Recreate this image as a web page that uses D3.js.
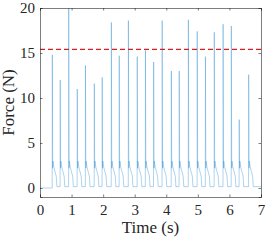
<!DOCTYPE html>
<html>
<head>
<meta charset="utf-8">
<script src="https://cdn.jsdelivr.net/npm/d3@7"></script>
<style>
  body { margin: 0; background: #fff; }
  svg { display: block; }
</style>
</head>
<body>
<script>
const width = 269
const height = 241
const margin = { top: 8, right: 8, bottom: 44, left: 40 }

// peak onset times (s) and peak force (N)
const peakTimes = [0.39, 0.64, 0.91, 1.18, 1.44, 1.72, 1.97, 2.26, 2.51, 2.80, 3.08, 3.34,
    3.60, 3.87, 4.16, 4.41, 4.70, 4.98, 5.24, 5.52, 5.80, 6.06, 6.31, 6.61]
const peakForces = [14.8, 12.0, 20.0, 11.0, 13.6, 11.6, 12.3, 18.4, 14.7, 18.6, 14.6, 15.3,
    14.0, 18.6, 13.0, 13.0, 18.7, 17.4, 14.6, 17.3, 18.2, 18.0, 7.6, 12.6]

// shape of one pulse after the peak: time offset (s) and force (N)
const tailOffsets = [0.012, 0.02, 0.05, 0.125, 0.145]
const tailForces = [2.2, 3.0, 2.3, 1.3, 0.15]
const baseStart = 0.0
const baseRest = 0.15

const threshold = 15.4
const xTicks = [0, 1, 2, 3, 4, 5, 6, 7]
const yTicks = [0, 5, 10, 15, 20]

// build the trace
const trace = [[0, baseStart]]
peakTimes.forEach((t, i) => {
    trace.push([t - 0.004, i === 0 ? baseStart : baseRest])
    trace.push([t, peakForces[i]])
    tailOffsets.forEach((o, j) => trace.push([t + o, tailForces[j]]))
})
trace.push([7, baseRest])

const x = d3.scaleLinear().domain([0, 7]).range([margin.left, width - margin.right])
const y = d3.scaleLinear().domain([-1, 20]).range([height - margin.bottom, margin.top])

const svg = d3.select("body").append("svg")
    .attr("width", width)
    .attr("height", height)

const axisColor = "#262626"
const font = "'Liberation Serif', 'Times New Roman', serif"

svg.append("path")
    .datum(trace)
    .attr("fill", "none")
    .attr("stroke", "#1f86cc")
    .attr("stroke-opacity", 0.6)
    .attr("stroke-width", 0.6)
    .attr("stroke-linejoin", "miter")
    .attr("d", d3.line().x(d => x(d[0])).y(d => y(d[1])))

svg.append("line")
    .attr("x1", x(0)).attr("x2", x(7))
    .attr("y1", y(threshold)).attr("y2", y(threshold))
    .attr("stroke", "#d42020")
    .attr("stroke-width", 1.3)
    .attr("stroke-dasharray", "5,3")

const tickLen = 2.5

const gx = svg.append("g")
    .attr("transform", `translate(0,${height - margin.bottom})`)
    .call(d3.axisBottom(x).tickValues(xTicks).tickSize(-tickLen).tickPadding(7).tickFormat(d3.format("d")))
const gxTop = svg.append("g")
    .attr("transform", `translate(0,${margin.top})`)
    .call(d3.axisTop(x).tickValues(xTicks).tickSize(-tickLen).tickFormat(""))
const gy = svg.append("g")
    .attr("transform", `translate(${margin.left},0)`)
    .call(d3.axisLeft(y).tickValues(yTicks).tickSize(-tickLen).tickPadding(5).tickFormat(d3.format("d")))
const gyRight = svg.append("g")
    .attr("transform", `translate(${width - margin.right},0)`)
    .call(d3.axisRight(y).tickValues(yTicks).tickSize(-tickLen).tickFormat(""))

;[gx, gxTop, gy, gyRight].forEach(g => {
    g.select(".domain").attr("stroke", axisColor).attr("stroke-width", 0.6)
    g.selectAll(".tick line").attr("stroke", axisColor).attr("stroke-width", 0.6)
    g.selectAll("text")
        .attr("fill", axisColor)
        .style("font-family", font)
        .style("font-size", "15px")
})

svg.append("text")
    .attr("x", (x(0) + x(7)) / 2)
    .attr("y", 233)
    .attr("text-anchor", "middle")
    .attr("fill", axisColor)
    .style("font-family", font)
    .style("font-size", "17px")
    .text("Time (s)")

svg.append("text")
    .attr("transform", `translate(14,${(y(-1) + y(20)) / 2}) rotate(-90)`)
    .attr("text-anchor", "middle")
    .attr("fill", axisColor)
    .style("font-family", font)
    .style("font-size", "17px")
    .text("Force (N)")
</script>
</body>
</html>
